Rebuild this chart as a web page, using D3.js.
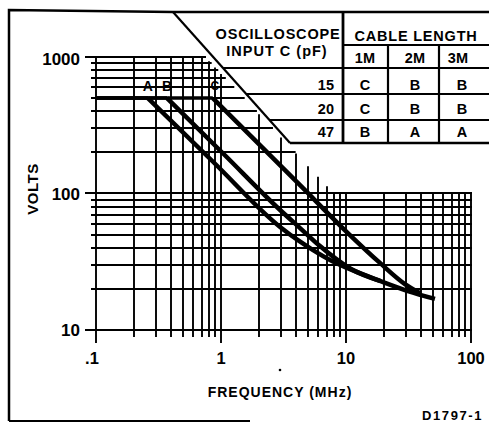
<!DOCTYPE html>
<html><head><meta charset="utf-8">
<script src="https://cdn.jsdelivr.net/npm/d3@7"></script>
<style>
html,body{margin:0;padding:0;background:#fff;}
svg{display:block;}
text{font-family:"Liberation Sans",Arial,Helvetica,sans-serif;font-weight:bold;fill:#000;}
</style></head><body>
<svg id="chart" width="489" height="423"></svg>
<script>
// ---------- data ----------
const xTickValues = [0.1, 1, 10, 100];
const xTickLabels = [".1", "1", "10", "100"];
const yTickValues = [10, 100, 1000];
const yTickLabels = ["10", "100", "1000"];
const xTitle = "FREQUENCY (MHz)";
const yTitle = "VOLTS";
const plateauVolts = 500;
const curveNames = ["A", "B", "C"];
const breakFreqs = [0.26, 0.37, 0.86];
// [frequency MHz, volts] from the break point onwards
const curveA = [[0.26,500],[0.88,168],[2.97,56.9],[4.21,44.9],[5.45,38.5],[7.45,32.6],[10.2,28.5],[18.7,22.9],[31.3,19.3],[51.5,16.9]];
const curveB = [[0.37,500],[1.06,193],[2.97,75.7],[4.29,55.8],[6.19,41.2],[8.17,33.6],[10.8,28.2],[18.7,22.9]];
const curveC = [[0.86,500],[4.29,115],[10.2,52],[18.7,31],[29.6,21.7],[39.1,18.6]];
const tableTitle = ["OSCILLOSCOPE", "INPUT C (pF)"];
const tableColTitle = "CABLE LENGTH";
const tableCols = ["1M", "2M", "3M"];
const tableRows = ["15", "20", "47"];
const tableCells = [["C","B","B"],["C","B","B"],["B","A","A"]];
const figureId = "D1797-1";

// ---------- scales ----------
const svg = d3.select("#chart");
const x = d3.scaleLog().domain([0.1, 100]).range([96, 471]);
const y = d3.scaleLog().domain([10, 1000]).range([330, 57]);

// clipping edge of the grid (parallel to table diagonal)
const edgeX0 = 205, edgeY0 = 57, edgeSlope = 1.06;
function topOf(px) {
  return Math.min(Math.max(edgeY0 + edgeSlope * (px - edgeX0), y(1000)), y(100));
}
function endOf(py) {
  if (py >= y(100) - 0.5) return x(100);
  return Math.min(x(100), edgeX0 + (py - edgeY0) / edgeSlope);
}

const g = svg.append("g");
const gridW = 1.9;
const majorX = new Set(xTickValues.map(v => Math.round(x(v))));
const majorY = new Set(yTickValues.map(v => Math.round(y(v))));

// vertical grid lines
x.ticks().forEach(f => {
  const px = Math.round(x(f));
  const major = majorX.has(px);
  g.append("line").attr("x1", px).attr("x2", px)
    .attr("y1", topOf(px)).attr("y2", major ? 343 : 337)
    .attr("stroke", "#000").attr("stroke-width", gridW);
});
// horizontal grid lines
y.ticks().forEach(v => {
  const py = Math.round(y(v));
  const major = majorY.has(py);
  g.append("line").attr("x1", major ? 85 : 91).attr("x2", endOf(py) + 1)
    .attr("y1", py).attr("y2", py)
    .attr("stroke", "#000").attr("stroke-width", gridW);
});

// tick labels
yTickValues.forEach((v, i) => {
  svg.append("text").attr("x", 80).attr("y", y(v) + (v === 1000 ? 2 : 0)).attr("dy", "0.36em")
    .attr("text-anchor", "end").attr("font-size", 17).text(yTickLabels[i]);
});
xTickValues.forEach((v, i) => {
  svg.append("text").attr("x", x(v) + (i === 0 ? -4 : 0)).attr("y", 358).attr("dy", "0.36em")
    .attr("text-anchor", "middle").attr("font-size", 16.5).text(xTickLabels[i]);
});

// axis titles
svg.append("text").attr("transform", "translate(33,189) rotate(-90)").attr("dy", "0.36em")
  .attr("text-anchor", "middle").attr("font-size", 15).attr("letter-spacing", 0.5).text(yTitle);
svg.append("text").attr("x", 280).attr("y", 392).attr("dy", "0.36em")
  .attr("text-anchor", "middle").attr("font-size", 14).attr("letter-spacing", 1).text(xTitle);

// curves
const line = d3.line().x(d => x(d[0])).y(d => y(d[1])).curve(d3.curveMonotoneX);
[curveA, curveB, curveC].forEach((c, i) => {
  svg.append("line").attr("x1", x(0.1)).attr("x2", x(breakFreqs[i]))
    .attr("y1", y(plateauVolts)).attr("y2", y(plateauVolts))
    .attr("stroke", "#000").attr("stroke-width", 3.5);
  svg.append("path").attr("d", line(c)).attr("fill", "none")
    .attr("stroke", "#000").attr("stroke-width", 4.5).attr("stroke-linejoin", "miter");
  svg.append("text").attr("x", x(breakFreqs[i]) + (i === 2 ? 2 : 0)).attr("y", y(plateauVolts) - 12)
    .attr("dy", "0.36em").attr("text-anchor", "middle").attr("font-size", i === 2 ? 12 : 14)
    .text(curveNames[i]);
});

// frame
svg.append("path").attr("d", "M9,421 L9,10 L173,12 L489,12").attr("fill", "none")
  .attr("stroke", "#000").attr("stroke-width", 2.5);
svg.append("line").attr("x1", 9).attr("x2", 250).attr("y1", 421).attr("y2", 421)
  .attr("stroke", "#000").attr("stroke-width", 2);

// table
const T = { dx0: 173, dy0: 12, dx1: 290, dy1: 143 };
const diagX = yy => T.dx0 + (yy - T.dy0) * (T.dx1 - T.dx0) / (T.dy1 - T.dy0);
const tl = (x1, y1, x2, y2, w) => svg.append("line").attr("x1", x1).attr("y1", y1)
  .attr("x2", x2).attr("y2", y2).attr("stroke", "#000").attr("stroke-width", w || 2.2);
tl(T.dx0, T.dy0, T.dx1, T.dy1, 2.2);
tl(T.dx1, T.dy1, 489, T.dy1, 2.5);
tl(343, 12, 343, 143, 2.8);
tl(343, 45, 489, 45, 2.2);
const rowLines = [68, 94, 120];
rowLines.forEach(ry => tl(diagX(ry), ry, 489, ry, 2.2));
tl(388, 45, 388, 143, 2.2);
tl(439, 45, 439, 143, 2.2);

const tt = (tx, ty, s, anchor, size, ls) => svg.append("text").attr("x", tx).attr("y", ty)
  .attr("dy", "0.36em").attr("text-anchor", anchor).attr("font-size", size)
  .attr("letter-spacing", ls || 0).text(s);
tt(278, 34, tableTitle[0], "middle", 14.5, 0.8);
tt(277, 51, tableTitle[1], "middle", 14.5, 1);
tt(416, 36, tableColTitle, "middle", 14.5, 0.8);
const colHead = [365, 415, 458];
const colCell = [365, 415, 462];
const rowY = [85, 108.5, 132];
tableCols.forEach((c, j) => tt(colHead[j], 58, c, "middle", 14.5, 0.3));
tableRows.forEach((r, i) => {
  tt(334, rowY[i], r, "end", 14.5, 0);
  tableCells[i].forEach((c, j) => tt(colCell[j], rowY[i], c, "middle", 14.5, 0));
});

// stray mark and figure id
svg.append("circle").attr("cx", 280).attr("cy", 370).attr("r", 1.3).attr("fill", "#000");
svg.append("text").attr("x", 422).attr("y", 415).attr("dy", "0.36em")
  .attr("font-size", 13).attr("letter-spacing", 1.6).text(figureId);
</script>
</body></html>
